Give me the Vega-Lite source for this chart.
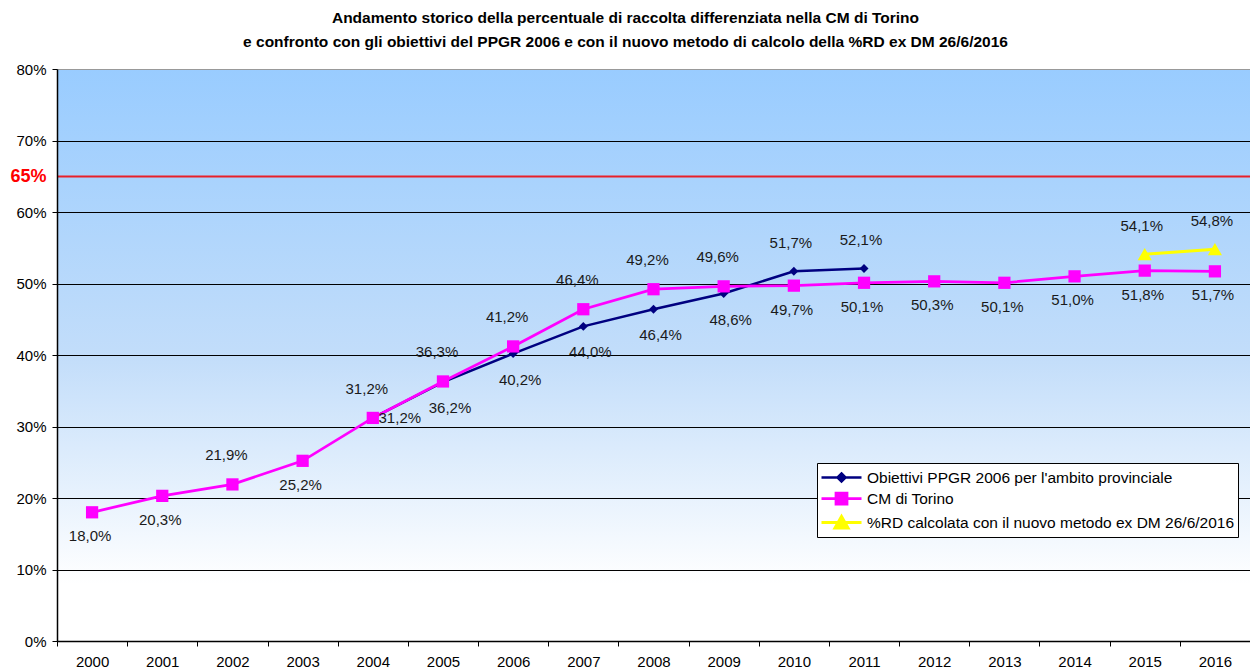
{
  "$schema": "https://vega.github.io/schema/vega-lite/v6.json",
  "autosize": {"type": "none"},
  "padding": {"left": 57, "top": 69, "right": 0, "bottom": 29},
  "width": 1193,
  "height": 572,
  "background": "white",
  "title": {
    "text": ["Andamento storico della percentuale di raccolta differenziata nella CM di Torino", "e confronto con gli obiettivi del PPGR 2006 e con il nuovo metodo di calcolo della %RD ex DM 26/6/2016"],
    "font": "Liberation Sans",
    "fontSize": 15.5,
    "fontWeight": "bold",
    "color": "black",
    "anchor": "middle",
    "dx": -28,
    "offset": 12,
    "lineHeight": 24
  },
  "config": {
    "locale": {"number": {"decimal": ",", "thousands": ".", "grouping": [3], "currency": ["€", ""]}},
    "view": {
      "stroke": null,
      "fill": {"gradient": "linear", "x1": 0, "y1": 0, "x2": 0, "y2": 1, "stops": [{"offset": 0, "color": "#99CCFF"}, {"offset": 0.5, "color": "#C2DDFA"}, {"offset": 0.9, "color": "#FFFFFF"}, {"offset": 1, "color": "#FFFFFF"}]}
    },
    "font": "Liberation Sans"
  },
  "data": {
    "values": [
      {"year": "2004", "series": "Obiettivi PPGR 2006 per l'ambito provinciale", "value": 0.312},
      {"year": "2005", "series": "Obiettivi PPGR 2006 per l'ambito provinciale", "value": 0.362},
      {"year": "2006", "series": "Obiettivi PPGR 2006 per l'ambito provinciale", "value": 0.402},
      {"year": "2007", "series": "Obiettivi PPGR 2006 per l'ambito provinciale", "value": 0.440},
      {"year": "2008", "series": "Obiettivi PPGR 2006 per l'ambito provinciale", "value": 0.464},
      {"year": "2009", "series": "Obiettivi PPGR 2006 per l'ambito provinciale", "value": 0.486},
      {"year": "2010", "series": "Obiettivi PPGR 2006 per l'ambito provinciale", "value": 0.517},
      {"year": "2011", "series": "Obiettivi PPGR 2006 per l'ambito provinciale", "value": 0.521},
      {"year": "2000", "series": "CM di Torino", "value": 0.180},
      {"year": "2001", "series": "CM di Torino", "value": 0.203},
      {"year": "2002", "series": "CM di Torino", "value": 0.219},
      {"year": "2003", "series": "CM di Torino", "value": 0.252},
      {"year": "2004", "series": "CM di Torino", "value": 0.312},
      {"year": "2005", "series": "CM di Torino", "value": 0.363},
      {"year": "2006", "series": "CM di Torino", "value": 0.412},
      {"year": "2007", "series": "CM di Torino", "value": 0.464},
      {"year": "2008", "series": "CM di Torino", "value": 0.492},
      {"year": "2009", "series": "CM di Torino", "value": 0.496},
      {"year": "2010", "series": "CM di Torino", "value": 0.497},
      {"year": "2011", "series": "CM di Torino", "value": 0.501},
      {"year": "2012", "series": "CM di Torino", "value": 0.503},
      {"year": "2013", "series": "CM di Torino", "value": 0.501},
      {"year": "2014", "series": "CM di Torino", "value": 0.510},
      {"year": "2015", "series": "CM di Torino", "value": 0.518},
      {"year": "2016", "series": "CM di Torino", "value": 0.517},
      {"year": "2015", "series": "%RD calcolata con il nuovo metodo ex DM 26/6/2016", "value": 0.541},
      {"year": "2016", "series": "%RD calcolata con il nuovo metodo ex DM 26/6/2016", "value": 0.548}
    ]
  },
  "encoding": {
    "x": {
      "field": "year",
      "type": "ordinal",
      "scale": {"domain": ["2000","2001","2002","2003","2004","2005","2006","2007","2008","2009","2010","2011","2012","2013","2014","2015","2016"], "paddingInner": 0, "paddingOuter": 0},
      "axis": {
        "title": null,
        "labelAngle": 0,
        "labelFont": "Liberation Sans",
        "labelFontSize": 15,
        "labelColor": "black",
        "labelPadding": 8,
        "tickBand": "extent",
        "tickSize": 5,
        "tickColor": "black",
        "domainColor": "black",
        "domainWidth": 1.5,
        "grid": false
      }
    },
    "y": {
      "field": "value",
      "type": "quantitative",
      "scale": {"domain": [0, 0.8], "nice": false},
      "axis": {
        "title": null,
        "values": [0, 0.1, 0.2, 0.3, 0.4, 0.5, 0.6, 0.7, 0.8, 0.65],
        "format": ".0%",
        "labelFont": "Liberation Sans",
        "labelFontSize": {"condition": {"test": "abs(datum.value - 0.65) < 0.001", "value": 18}, "value": 15},
        "labelFontWeight": {"condition": {"test": "abs(datum.value - 0.65) < 0.001", "value": "bold"}, "value": "normal"},
        "labelColor": {"condition": {"test": "abs(datum.value - 0.65) < 0.001", "value": "#FF0000"}, "value": "black"},
        "labelPadding": 6,
        "tickSize": 5,
        "tickColor": {"condition": {"test": "abs(datum.value - 0.65) < 0.001", "value": "transparent"}, "value": "black"},
        "domainColor": "black",
        "domainWidth": 1.5,
        "grid": true,
        "gridColor": {"condition": [{"test": "abs(datum.value - 0.65) < 0.001", "value": "#E8202A"}, {"test": "datum.value > 0.79", "value": "#999999"}], "value": "black"},
        "gridWidth": {"condition": {"test": "abs(datum.value - 0.65) < 0.001", "value": 2}, "value": 1},
        "gridOpacity": 1
      }
    }
  },
  "layer": [
    {
      "mark": {"type": "line", "interpolate": "linear"},
      "encoding": {
        "color": {
          "field": "series",
          "type": "nominal",
          "scale": {"domain": ["Obiettivi PPGR 2006 per l'ambito provinciale", "CM di Torino", "%RD calcolata con il nuovo metodo ex DM 26/6/2016"], "range": ["#000080", "#FF00FF", "#FFFF00"]},
          "legend": {
            "title": null,
            "orient": "none",
            "legendX": 760,
            "legendY": 394,
            "fillColor": "white",
            "strokeColor": "black",
            "padding": 3,
            "labelFont": "Liberation Sans",
            "labelFontSize": 15.5,
            "labelColor": "black",
            "labelOffset": 24,
            "labelLimit": 500,
            "rowPadding": 0,
            "symbolSize": 400,
            "symbolStrokeWidth": 3,
            "encode": {
              "symbols": {
                "update": {
                  "shape": {"signal": "datum.index === 0 ? 'M-1,0H3M1,-0.4L1.4,0L1,0.4L0.6,0Z' : datum.index === 1 ? 'M-1,0H3M0.45,-0.55H1.55V0.55H0.45Z' : 'M-1,0H3M1,-0.6L1.65,0.55H0.35Z'"},
                  "size": {"value": 400},
                  "fill": {"scale": "color", "field": "value"},
                  "stroke": {"scale": "color", "field": "value"},
                  "strokeWidth": {"signal": "datum.index === 0 ? 2.5 : datum.index === 1 ? 3 : 4"}
                }
              }
            }
          }
        },
        "strokeWidth": {
          "field": "series",
          "type": "nominal",
          "scale": {"domain": ["Obiettivi PPGR 2006 per l'ambito provinciale", "CM di Torino", "%RD calcolata con il nuovo metodo ex DM 26/6/2016"], "range": [2.5, 3, 4.5]},
          "legend": null
        }
      }
    },
    {
      "transform": [{"filter": "indexof(datum.series, 'Obiettivi') === 0"}],
      "mark": {"type": "point", "filled": true, "opacity": 1, "shape": "diamond", "size": 80, "color": "#000080"},
      "encoding": {}
    },
    {
      "transform": [{"filter": "datum.series === 'CM di Torino'"}],
      "mark": {"type": "point", "filled": true, "opacity": 1, "shape": "square", "size": 150, "color": "#FF00FF"},
      "encoding": {}
    },
    {
      "transform": [{"filter": "indexof(datum.series, '%RD') === 0"}],
      "mark": {"type": "point", "filled": true, "opacity": 1, "shape": "triangle-up", "size": 200, "color": "#FFFF00"},
      "encoding": {}
    },
    {
      "transform": [{"filter": "datum.series === 'CM di Torino' && indexof(['2002','2004','2005','2006','2007','2008','2009'], datum.year) >= 0"}],
      "mark": {"type": "text", "dy": -29, "dx": -6, "fontSize": 15, "font": "Liberation Sans", "color": "#1a1a1a"},
      "encoding": {"text": {"field": "value", "type": "quantitative", "format": ".1%"}}
    },
    {
      "transform": [{"filter": "datum.series === 'CM di Torino' && indexof(['2002','2004','2005','2006','2007','2008','2009'], datum.year) < 0"}],
      "mark": {"type": "text", "dy": 24, "dx": -2, "fontSize": 15, "font": "Liberation Sans", "color": "#1a1a1a"},
      "encoding": {"text": {"field": "value", "type": "quantitative", "format": ".1%"}}
    },
    {
      "transform": [{"filter": "datum.series !== 'CM di Torino' && datum.year === '2004'"}],
      "mark": {"type": "text", "dy": 0, "dx": 27, "fontSize": 15, "font": "Liberation Sans", "color": "#1a1a1a"},
      "encoding": {"text": {"field": "value", "type": "quantitative", "format": ".1%"}}
    },
    {
      "transform": [{"filter": "indexof(datum.series, 'Obiettivi') === 0 && indexof(['2005','2006','2007','2008','2009'], datum.year) >= 0"}],
      "mark": {"type": "text", "dy": 26, "dx": 7, "fontSize": 15, "font": "Liberation Sans", "color": "#1a1a1a"},
      "encoding": {"text": {"field": "value", "type": "quantitative", "format": ".1%"}}
    },
    {
      "transform": [{"filter": "(indexof(datum.series, 'Obiettivi') === 0 && indexof(['2010','2011'], datum.year) >= 0) || indexof(datum.series, '%RD') === 0"}],
      "mark": {"type": "text", "dy": -28, "dx": -3, "fontSize": 15, "font": "Liberation Sans", "color": "#1a1a1a"},
      "encoding": {"text": {"field": "value", "type": "quantitative", "format": ".1%"}}
    }
  ]
}
